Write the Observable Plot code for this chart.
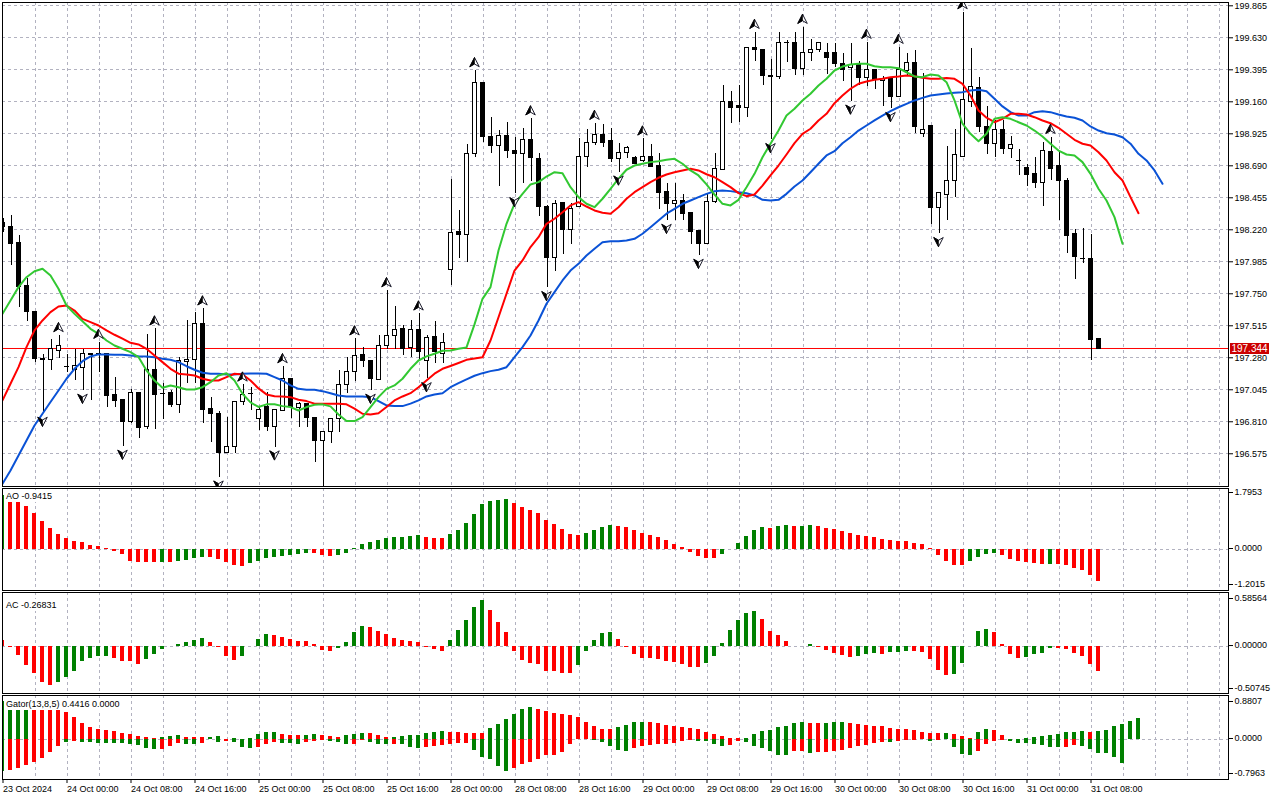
<!DOCTYPE html>
<html><head><meta charset="utf-8">
<script src="https://cdn.jsdelivr.net/npm/d3@7"></script>
<script src="https://cdn.jsdelivr.net/npm/@observablehq/plot@0.6"></script>
<style>
html,body{margin:0;padding:0;background:#fff;}
#chart{position:relative;width:1280px;height:800px;overflow:hidden;background:#fff;font-family:'Liberation Sans',Arial,sans-serif;}
.lbl{position:absolute;left:4px;background:#fff;font-size:9px;line-height:12px;height:12px;padding:0 2px;color:#000;white-space:nowrap;}
.tag{position:absolute;left:1230px;width:39px;height:11px;line-height:11px;background:#cc0000;color:#fff;font-size:10px;text-align:center;}
</style></head><body><div id="chart"></div>
<script>
// ---------- DATA (H1 bars, index -1 = 23 Oct 16:00) ----------
const firstBar = -1;
const open = [198.268,198.244,198.122,197.804,197.615,197.270,197.266,197.329,197.211,197.187,
197.206,197.301,197.305,197.305,197.003,196.972,196.808,197.023,196.771,197.187,
197.016,197.020,196.935,197.248,197.266,197.525,196.902,196.869,196.579,196.624,
196.955,197.016,196.827,196.918,196.771,196.888,197.125,196.913,196.938,196.840,
196.668,196.734,196.832,197.081,197.175,197.297,197.260,197.120,197.365,197.439,
197.493,197.353,197.486,197.255,197.432,197.310,197.926,198.203,198.184,198.778,
199.300,198.905,198.834,198.912,198.802,198.778,198.876,198.741,198.386,198.014,
198.415,198.215,198.386,198.753,198.856,198.918,198.869,198.741,198.783,198.749,
198.724,198.758,198.685,198.497,198.411,198.430,198.342,198.208,198.118,198.423,
198.661,199.162,199.126,199.116,199.557,199.542,199.351,199.344,199.593,199.593,
199.402,199.520,199.537,199.517,199.520,199.439,199.410,199.427,199.336,199.395,
199.311,199.336,199.194,199.385,199.443,198.925,198.979,198.382,198.477,198.582,
198.758,199.157,199.263,198.974,198.852,198.954,198.815,198.724,198.676,198.631,
198.565,198.790,198.692,198.582,198.186,198.007,198.007,197.419];
const high = [198.303,198.325,198.178,197.860,197.620,197.305,197.415,197.444,197.303,197.341,
197.341,197.312,197.395,197.305,197.138,196.974,197.045,197.025,197.452,197.493,
197.089,197.040,197.284,197.554,197.615,197.640,196.991,196.886,196.844,196.960,
197.081,197.064,196.918,197.028,196.893,197.216,197.125,196.955,196.938,196.840,
196.741,196.832,197.187,197.284,197.420,197.358,197.260,197.444,197.774,197.657,
197.517,197.554,197.603,197.444,197.549,197.461,198.587,198.362,198.846,199.390,
199.300,199.047,198.949,199.011,198.895,198.962,199.036,198.778,198.399,198.435,
198.423,198.411,198.888,198.954,199.003,198.993,198.962,198.852,198.832,198.758,
198.888,198.846,198.783,198.558,198.562,198.479,198.342,198.208,198.484,198.783,
199.280,199.238,199.280,199.557,199.671,199.542,199.469,199.667,199.610,199.667,
199.708,199.615,199.593,199.586,199.586,199.517,199.586,199.456,199.598,199.395,
199.346,199.336,199.561,199.517,199.537,199.370,198.979,198.492,198.832,198.954,
199.816,199.549,199.336,199.126,199.023,199.023,198.905,198.807,198.700,198.753,
198.863,198.900,198.790,198.595,198.220,198.228,198.186,197.425];
const low = [198.200,197.958,197.652,197.549,197.248,196.871,197.187,197.273,197.175,197.113,
197.040,196.967,197.175,196.918,196.918,196.629,196.796,196.685,196.751,196.751,
196.827,196.913,196.869,197.089,197.089,196.796,196.661,196.403,196.575,196.579,
196.930,196.893,196.746,196.741,196.624,196.888,196.832,196.771,196.771,196.514,
196.330,196.649,196.734,197.016,197.108,197.211,197.040,197.120,197.339,197.339,
197.297,197.284,197.255,197.125,197.236,197.236,197.811,198.007,197.983,198.749,
198.863,198.783,198.538,198.741,198.484,198.558,198.577,198.320,197.794,197.916,
198.039,198.112,198.386,198.680,198.839,198.827,198.716,198.643,198.741,198.705,
198.716,198.676,198.367,198.288,198.288,198.288,198.112,198.031,198.118,198.413,
198.656,198.999,199.011,199.043,199.458,199.280,198.881,199.322,199.447,199.353,
199.353,199.458,199.520,199.361,199.414,199.311,199.164,199.280,199.272,199.248,
199.126,199.109,199.194,199.346,198.925,198.900,198.259,198.191,198.288,198.460,
198.753,199.120,198.937,198.773,198.753,198.773,198.741,198.619,198.540,198.526,
198.393,198.582,198.288,198.044,197.853,197.970,197.260,197.340];
const close = [198.239,198.118,197.799,197.615,197.268,197.266,197.341,197.368,197.210,197.218,
197.305,197.305,197.297,196.996,196.960,196.808,197.023,196.763,197.187,197.003,
197.014,196.935,197.255,197.266,197.525,196.900,196.869,196.579,196.624,196.952,
197.003,197.014,196.893,196.771,196.893,197.125,196.918,196.943,196.840,196.668,
196.734,196.832,197.081,197.175,197.292,197.255,197.125,197.365,197.439,197.486,
197.346,197.486,197.322,197.427,197.322,197.388,198.198,198.184,198.778,199.300,
198.900,198.834,198.907,198.797,198.773,198.876,198.749,198.386,198.014,198.411,
198.215,198.374,198.753,198.856,198.918,198.856,198.741,198.783,198.819,198.705,
198.758,198.680,198.489,198.406,198.428,198.338,198.203,198.118,198.423,198.668,
199.157,199.116,199.116,199.557,199.542,199.348,199.344,199.593,199.592,199.402,
199.520,199.537,199.593,199.483,199.439,199.395,199.427,199.336,199.395,199.317,
199.324,199.194,199.390,199.446,198.974,198.954,198.382,198.492,198.582,198.766,
199.170,199.267,198.974,198.852,198.954,198.815,198.844,198.725,198.624,198.565,
198.797,198.668,198.577,198.173,198.019,198.006,197.414,197.344];

// Alligator lines (already shifted forward, starting at bar -1)
const jaw = [196.355,196.452,196.562,196.673,196.783,196.869,196.955,197.040,197.126,197.199,
197.255,197.290,197.305,197.305,197.302,197.302,197.297,197.292,197.290,197.284,
197.273,197.265,197.248,197.218,197.192,197.170,197.163,197.163,197.158,197.158,
197.163,197.165,197.165,197.163,197.138,197.113,197.077,197.052,197.045,197.045,
197.035,197.020,197.003,196.996,196.996,196.996,196.991,196.962,196.930,196.925,
196.925,196.943,196.967,196.996,197.011,197.020,197.064,197.094,197.122,197.148,
197.167,197.182,197.192,197.211,197.284,197.358,197.444,197.554,197.677,197.762,
197.848,197.921,197.970,198.031,198.081,198.129,198.136,198.136,198.142,198.154,
198.191,198.239,198.288,198.338,198.374,198.411,198.435,198.460,198.484,198.503,
198.509,198.504,198.496,198.489,198.472,198.440,198.435,198.440,198.484,198.538,
198.582,198.643,198.705,198.766,198.797,198.856,198.900,198.949,198.986,199.023,
199.059,199.091,199.120,199.145,199.170,199.189,199.206,199.214,199.221,199.226,
199.231,199.243,199.248,199.238,199.182,199.126,199.084,199.059,199.059,199.084,
199.091,199.084,199.067,199.052,199.043,199.023,198.979,198.949,198.929,198.920,
198.900,198.852,198.778,198.729,198.656,198.558];
const teeth = [196.967,197.089,197.211,197.358,197.481,197.554,197.615,197.657,197.664,197.627,
197.566,197.542,197.517,197.481,197.449,197.420,197.390,197.378,197.346,197.297,
197.248,197.199,197.163,197.158,197.150,197.126,197.113,197.113,197.138,197.163,
197.158,197.113,197.055,197.011,196.998,196.996,196.991,196.972,196.962,196.943,
196.943,196.943,196.943,196.938,196.906,196.869,196.864,196.873,196.918,196.967,
196.996,197.020,197.064,197.113,197.163,197.199,197.220,197.242,197.265,197.275,
197.284,197.407,197.578,197.750,197.921,197.995,198.093,198.166,198.264,198.301,
198.349,198.399,198.423,198.391,198.362,198.345,198.338,198.386,198.448,198.496,
198.533,198.570,198.602,198.626,198.643,198.656,198.668,198.656,198.628,198.606,
198.570,198.533,198.489,198.467,198.479,198.545,198.619,198.692,198.773,198.856,
198.925,198.962,199.023,199.072,199.150,199.206,199.256,199.292,199.309,199.322,
199.329,199.341,199.346,199.353,199.348,199.336,199.329,199.329,199.335,199.329,
199.292,199.206,199.096,199.043,199.010,199.035,199.072,199.072,199.067,199.047,
199.023,199.003,198.969,198.925,198.881,198.852,198.839,198.790,198.729,198.643,
198.582,198.460,198.342];
const lips = [197.603,197.701,197.799,197.872,197.916,197.934,197.884,197.787,197.664,197.603,
197.549,197.493,197.456,197.407,197.370,197.346,197.322,197.285,197.187,197.113,
197.060,197.077,197.064,197.047,197.047,197.064,197.101,197.150,197.167,197.113,
197.016,196.952,196.919,196.938,196.938,196.925,196.918,196.893,196.918,196.935,
196.938,196.923,196.864,196.815,196.815,196.844,196.918,196.991,197.052,197.077,
197.126,197.199,197.260,197.290,197.310,197.332,197.334,197.347,197.356,197.525,
197.713,197.799,198.068,198.264,198.411,198.484,198.553,198.570,198.611,198.643,
198.636,198.533,198.460,198.411,198.386,198.448,198.521,198.595,198.661,198.692,
198.705,198.717,198.724,198.734,198.741,198.705,198.656,198.619,198.553,198.479,
198.411,198.399,198.440,198.533,198.631,198.753,198.852,198.949,199.059,199.109,
199.170,199.219,199.280,199.329,199.390,199.419,199.434,199.439,199.439,199.421,
199.414,199.414,199.407,199.377,199.346,199.341,199.361,199.353,199.304,199.170,
198.999,198.925,198.871,198.925,199.035,199.047,199.035,199.010,198.986,198.949,
198.905,198.852,198.802,198.773,198.766,198.717,198.631,198.521,198.435,198.313,
198.118];

const fractalUpBars = [6,11,18,24,29,34,43,47,51,58,65,73,79,93,99,107,111,119,130];
const fractalDownBars = [4,9,14,26,33,39,45,52,63,67,76,82,86,95,105,110,116];

// Awesome Oscillator (u = rising bar, d = falling bar)
const ao = [1.60,1.55,1.47,1.276,1.058,0.831,0.613,0.445,0.316,0.237,
0.208,0.119,0.089,0.030,-0.049,-0.148,-0.356,-0.386,-0.390,-0.395,
-0.390,-0.392,-0.356,-0.326,-0.267,-0.237,-0.240,-0.297,-0.386,-0.475,
-0.504,-0.415,-0.356,-0.267,-0.237,-0.208,-0.178,-0.148,-0.119,-0.122,
-0.178,-0.208,-0.178,-0.119,0.020,0.148,0.208,0.267,0.326,0.360,
0.366,0.396,0.415,0.356,0.326,0.320,0.445,0.564,0.781,1.038,
1.335,1.424,1.454,1.484,1.375,1.246,1.157,1.068,0.860,0.742,
0.593,0.445,0.415,0.475,0.564,0.653,0.712,0.682,0.653,0.564,
0.475,0.415,0.356,0.267,0.148,0.059,-0.079,-0.198,-0.257,-0.262,
-0.138,0.005,0.178,0.386,0.564,0.653,0.623,0.682,0.712,0.682,
0.690,0.712,0.682,0.623,0.593,0.534,0.475,0.415,0.386,0.356,
0.297,0.267,0.237,0.230,0.178,0.148,0.030,-0.178,-0.356,-0.475,
-0.480,-0.356,-0.237,-0.148,-0.119,-0.178,-0.297,-0.356,-0.386,-0.415,
-0.445,-0.440,-0.450,-0.475,-0.564,-0.623,-0.771,-0.9415];
const aoDir = "uddddddddd"+"dddddddddd"+"uduuuudddd"+"duuuuuuuud"+"dduuuuuuuu"+"uuuddduuuu"+"uuuudddddd"+
"ddduuuuddd"+"dddddddddd"+"uuuuuuduud"+"uudddddddd"+"dddddddddd"+"duuuuddddd"+"dudddddd";

// Accelerator Oscillator
const ac = [0.068,-0.008,-0.101,-0.214,-0.301,-0.395,-0.428,-0.402,-0.346,-0.271,
-0.169,-0.132,-0.109,-0.105,-0.132,-0.165,-0.170,-0.199,-0.147,-0.086,
-0.030,0.004,0.023,0.045,0.068,0.090,0.045,-0.015,-0.113,-0.158,
-0.113,0.002,0.079,0.135,0.124,0.105,0.079,0.060,0.056,0.023,
-0.045,-0.056,-0.023,0.045,0.150,0.218,0.207,0.169,0.135,0.094,
0.071,0.060,0.049,-0.008,-0.038,-0.053,0.071,0.173,0.286,0.432,
0.511,0.398,0.263,0.150,-0.053,-0.154,-0.188,-0.199,-0.278,-0.280,
-0.301,-0.302,-0.210,-0.053,0.071,0.139,0.154,0.083,-0.008,-0.086,
-0.132,-0.134,-0.143,-0.165,-0.177,-0.199,-0.233,-0.235,-0.188,-0.109,
0.038,0.173,0.286,0.365,0.387,0.297,0.162,0.117,0.060,-0.002,
-0.004,0.023,-0.008,-0.041,-0.075,-0.098,-0.120,-0.109,-0.086,-0.075,
-0.086,-0.064,-0.062,-0.053,-0.055,-0.064,-0.143,-0.267,-0.323,-0.312,
-0.188,0.002,0.162,0.184,0.150,0.023,-0.086,-0.132,-0.120,-0.086,
-0.075,-0.023,-0.025,-0.030,-0.075,-0.109,-0.199,-0.278];
const acDir = "ddddddduuu"+"uuuudddduu"+"uuuuuudddd"+"uuuudddddd"+"dduuuudddd"+"dddddduuuu"+"uddddddddd"+
"dduuuuuddd"+"dddddddduu"+"uuuuuddddd"+"duddddduuu"+"duuudddddu"+"uuuudddduu"+"uudddddd";

// Gator oscillator: upper = |jaw-teeth|, lower = |teeth-lips| (drawn below zero)
const gatorUpper = [0.80,0.84,0.86,0.8807,0.86,0.82,0.76,0.68,0.573,0.460,
0.333,0.262,0.212,0.191,0.163,0.120,0.106,0.064,0.050,0.014,
0.042,0.064,0.085,0.050,0.035,0.033,0.042,0.064,0.005,0.021,
0.010,0.020,0.106,0.148,0.150,0.106,0.085,0.084,0.085,0.106,
0.085,0.064,0.035,0.085,0.106,0.127,0.126,0.085,0.035,0.042,
0.071,0.092,0.093,0.134,0.156,0.177,0.156,0.155,0.134,0.133,
0.132,0.241,0.326,0.432,0.538,0.644,0.686,0.644,0.602,0.559,
0.538,0.517,0.474,0.368,0.283,0.219,0.218,0.262,0.304,0.368,
0.369,0.368,0.347,0.304,0.283,0.262,0.241,0.219,0.156,0.113,
0.071,0.028,0.027,0.030,0.113,0.160,0.198,0.262,0.283,0.347,
0.368,0.347,0.346,0.347,0.368,0.369,0.347,0.326,0.304,0.283,
0.282,0.241,0.219,0.218,0.198,0.156,0.134,0.133,0.134,0.113,
0.071,0.028,0.156,0.219,0.198,0.092,0.007,0.003,0.021,0.042,
0.071,0.092,0.113,0.156,0.157,0.177,0.156,0.177,0.198,0.283,
0.326,0.389,0.4416];
const gatorUpperDir = "uuuudddddd"+"dddddddddd"+"uuuddduudu"+"duuuuddduu"+"ddduuudddu"+"uuuuuudddd"+"duuuuuuddd"+
"ddddddduuu"+"uddddddddd"+"ddduuuuuuu"+"udduuudddd"+"ddddddddud"+"dduudddduu"+"uuuuuuduuu"+"uuu";
const gatorLower = [0.670,0.658,0.609,0.552,0.481,0.396,0.269,0.142,0.057,0.050,
0.057,0.071,0.080,0.092,0.093,0.095,0.100,0.130,0.200,0.212,
0.205,0.140,0.078,0.106,0.107,0.078,0.005,0.057,0.035,0.057,
0.163,0.184,0.163,0.106,0.057,0.078,0.080,0.106,0.057,0.035,
0.020,0.035,0.071,0.113,0.106,0.020,0.057,0.113,0.115,0.106,
0.108,0.170,0.191,0.170,0.149,0.127,0.106,0.085,0.084,0.234,
0.382,0.425,0.573,0.679,0.616,0.531,0.488,0.425,0.340,0.339,
0.276,0.106,0.005,0.004,0.020,0.064,0.149,0.234,0.255,0.191,
0.149,0.127,0.106,0.105,0.085,0.042,0.021,0.042,0.043,0.106,
0.149,0.127,0.042,0.064,0.150,0.200,0.255,0.340,0.341,0.262,
0.261,0.297,0.276,0.275,0.262,0.241,0.191,0.149,0.127,0.085,
0.064,0.065,0.042,0.021,0.014,0.007,0.035,0.014,0.010,0.163,
0.318,0.332,0.248,0.099,0.035,0.014,0.035,0.078,0.079,0.099,
0.120,0.163,0.164,0.163,0.120,0.149,0.205,0.290,0.291,0.375,
0.502,0.006,0.000];
const gatorLowerDir = "udddddddud"+"uuuuuuuuuu"+"ddduuddudu"+"uuddduuudd"+"duuudduuud"+"uuuddddddu"+"uuuudddddd"+
"dddduuuuud"+"ddddddduuu"+"udduuuuuud"+"dudddddddd"+"dudddduddu"+"uudddduuuu"+"uuudduuuuu"+"udd";

const priceTicks = [199.865,199.630,199.395,199.160,198.925,198.690,198.455,198.220,197.985,197.750,197.515,197.280,197.045,196.810,196.575];
const lastPrice = 197.344;
const timeTickBars = [-1,7,15,23,31,39,47,55,63,71,79,87,95,103,111,119,127,135];
const timeTickLabels = ["23 Oct 2024","24 Oct 00:00","24 Oct 08:00","24 Oct 16:00","25 Oct 00:00","25 Oct 08:00","25 Oct 16:00",
"28 Oct 00:00","28 Oct 08:00","28 Oct 16:00","29 Oct 00:00","29 Oct 08:00","29 Oct 16:00","30 Oct 00:00","30 Oct 08:00",
"30 Oct 16:00","31 Oct 00:00","31 Oct 08:00"];
const aoTicks = [1.7953, 0, -1.2015];
const acTicks = [0.58564, 0, -0.50745];
const gatorTicks = [0.8807, 0, -0.7963];
const aoLabel = "AO -0.9415";
const acLabel = "AC -0.26831";
const gatorLabel = "Gator(13,8,5) 0.4416 0.0000";

// ---------- BUILD ----------
const chart = document.getElementById("chart");
const GREEN = "#008000", RED = "#ff0000";
const FONT = "'Liberation Sans', Arial, sans-serif";
const baseStyle = {fontFamily: FONT, fontSize: "9px", color: "#000", background: "transparent", overflow: "visible"};
const xScale = {domain: [-1, 152.25], axis: null};
const gridBars = d3.range(3, 152, 4);
const dash = {stroke: "#b2b2c0", strokeOpacity: 1, strokeDasharray: "3,3", shapeRendering: "crispEdges"};
const mainY = {domain: [196.342, 199.904], range: [485, 0]};

const candles = open.map((o, k) => ({i: k + firstBar, open: o, high: high[k], low: low[k], close: close[k]}));
const series = arr => arr.map((v, k) => ({i: k + firstBar, v}));
const hist = (arr, dir) => arr.map((v, k) => ({i: k + firstBar, v, up: dir[k] === "u"}));
const fractalUp = fractalUpBars.map(b => candles[b - firstBar]);
const fractalDown = fractalDownBars.map(b => candles[b - firstBar]);

// pixel-align the 1px current-price line (Plot already adds a 0.5px offset to rules)
const lastY = Plot.scale({y: mainY}).apply(lastPrice);
const lastDy = Math.floor(lastY) - lastY;

// arrowhead glyphs: full outline, and the shaded left half
const arrow = (dir, half) => ({draw(ctx, size) {
  const s = Math.sqrt(size / Math.PI) * dir;
  const w = Math.abs(s) * 0.95;
  ctx.moveTo(0, -s);
  if (!half) ctx.lineTo(w, s * 0.85);
  ctx.lineTo(0, s * 0.3);
  ctx.lineTo(-w, s * 0.85);
  ctx.closePath();
}});

function place(svg, top) {
  svg.style.position = "absolute"; svg.style.left = "0px"; svg.style.top = top + "px";
  svg.style.maxWidth = "none";
  chart.appendChild(svg);
}

const fractalMarks = (data, yKey, dir, dy) => [
  Plot.dot(data, {x: "i", y: yKey, symbol: arrow(dir, false), r: 5, fill: "#ffffff", stroke: "#1a1a2a", strokeWidth: 1, dy, clip: true}),
  Plot.dot(data, {x: "i", y: yKey, symbol: arrow(dir, true), r: 5, fill: "#000000", stroke: "#000000", strokeWidth: 0.6, dy, clip: true})
];

const main = Plot.plot({
  width: 1280, height: 487, marginLeft: 2, marginRight: 52, marginTop: 2, marginBottom: 1,
  style: baseStyle,
  x: xScale,
  y: {...mainY, axis: null},
  color: {type: "identity"},
  marks: [
    Plot.gridX(gridBars, {...dash, dx: 0.5}),
    Plot.gridY(priceTicks, dash),
    Plot.ruleY([lastPrice], {stroke: "#ff0000", strokeWidth: 1, dy: lastDy}),
    Plot.ruleX(candles, {x: "i", y1: "low", y2: "high", stroke: "#000", dx: 0.5, shapeRendering: "crispEdges", clip: true}),
    Plot.rect(candles, {x1: d => d.i - 0.5, x2: d => d.i + 0.5, y1: "open", y2: "close", insetLeft: 2.5, insetRight: 1.5,
      fill: d => d.close >= d.open ? "#ffffff" : "#000000", stroke: "#000", strokeWidth: 1, shapeRendering: "crispEdges", clip: true}),
    Plot.line(series(jaw), {x: "i", y: "v", stroke: "#0a52d6", strokeWidth: 2, clip: true}),
    Plot.line(series(teeth), {x: "i", y: "v", stroke: "#ff0000", strokeWidth: 2, clip: true}),
    Plot.line(series(lips), {x: "i", y: "v", stroke: "#32c832", strokeWidth: 2, clip: true}),
    ...fractalMarks(fractalUp, "high", 1, -8),
    ...fractalMarks(fractalDown, "low", -1, 8),
    Plot.axisY(priceTicks, {anchor: "right", label: null, tickSize: 4, tickPadding: 2, tickFormat: d => d.toFixed(3)}),
    Plot.frame({stroke: "#000", shapeRendering: "crispEdges"})
  ]
});
place(main, 0);

const barOpts = (y2) => ({x1: d => d.i - 0.5, x2: d => d.i + 0.5, y1: 0, y2, insetLeft: 2, insetRight: 2,
  fill: d => d.up ? GREEN : RED, shapeRendering: "crispEdges", clip: true});

function panel({top, height, marginBottom, domain, range, bars, ticks, tickDy, fmt, extra = []}) {
  const svg = Plot.plot({
    width: 1280, height, marginLeft: 2, marginRight: 52, marginTop: 2, marginBottom,
    style: baseStyle, x: xScale, y: {domain, range, axis: null, label: null}, color: {type: "identity"},
    marks: [
      Plot.gridX(gridBars, {...dash, dx: 0.5}),
      Plot.ruleY([0], dash),
      ...bars,
      ...ticks.map((t, k) => Plot.axisY([t], {anchor: "right", label: null, tickSize: 4, tickPadding: 2, dy: tickDy[k], tickFormat: fmt})),
      ...extra,
      Plot.frame({stroke: "#000", shapeRendering: "crispEdges"})
    ]
  });
  place(svg, top);
  return svg;
}

panel({top: 486, height: 106, marginBottom: 2, domain: [-1.2015, 1.7953], range: [103.5, 2.5],
  bars: [Plot.rect(hist(ao, aoDir), barOpts("v"))],
  ticks: aoTicks, tickDy: [3.5, -1, -5.5], fmt: d => d.toFixed(4)});

panel({top: 590, height: 105, marginBottom: 2, domain: [-0.50745, 0.58564], range: [102, 3],
  bars: [Plot.rect(hist(ac, acDir), barOpts("v"))],
  ticks: acTicks, tickDy: [5, -1, -4], fmt: d => d.toFixed(5)});

panel({top: 693, height: 107, marginBottom: 21, domain: [-0.7963, 0.8807], range: [83.5, 4.5],
  bars: [
    Plot.rect(hist(gatorUpper, gatorUpperDir), barOpts("v")),
    Plot.rect(hist(gatorLower, gatorLowerDir), barOpts(d => -d.v))
  ],
  ticks: gatorTicks, tickDy: [3.5, -1, -3.5], fmt: d => d.toFixed(4),
  extra: [Plot.axisX(timeTickBars, {anchor: "bottom", label: null, tickSize: 4, tickPadding: 2, textAnchor: "start", dx: 0.5,
    tickFormat: d => timeTickLabels[timeTickBars.indexOf(d)]})]
});

function label(text, top) {
  const el = document.createElement("div");
  el.className = "lbl"; el.textContent = text; el.style.top = top + "px";
  chart.appendChild(el);
}
label(aoLabel, 490);
label(acLabel, 599);
label(gatorLabel, 698);

const tag = document.createElement("div");
tag.className = "tag";
tag.textContent = lastPrice.toFixed(3);
tag.style.top = (Math.floor(main.scale("y").apply(lastPrice)) - 5) + "px";
chart.appendChild(tag);
</script></body></html>
